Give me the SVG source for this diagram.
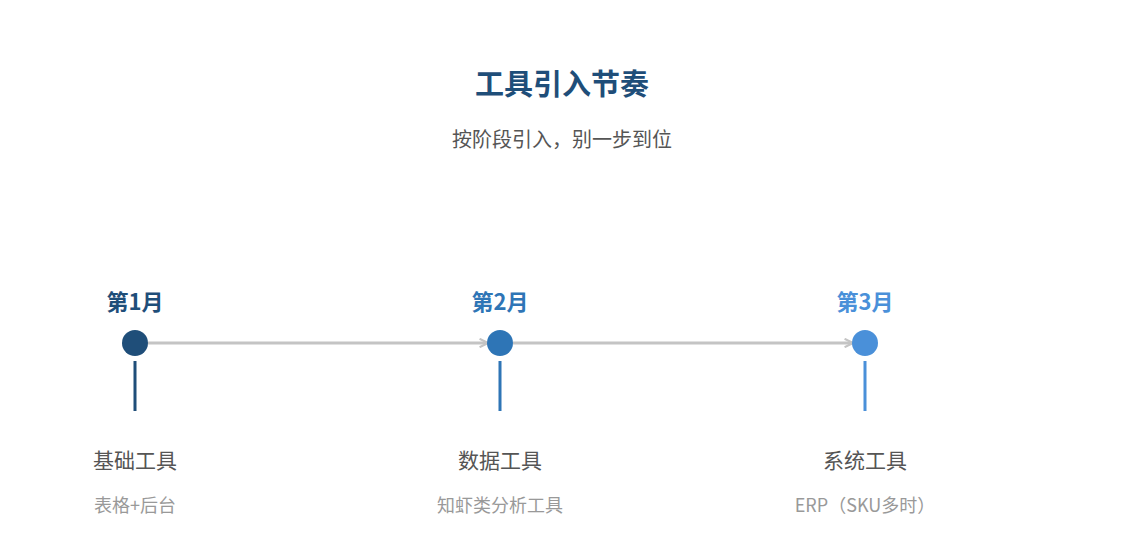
<svg xmlns="http://www.w3.org/2000/svg" width="1125" height="555" viewBox="0 0 1125 555">
<style>
text{font-family:"Noto Sans CJK SC","Noto Sans",sans-serif;text-anchor:middle}
.title{font-size:29px;font-weight:bold;fill:#1f4e79}
.sub{font-size:20px;fill:#555}
.month{font-size:22px;font-weight:bold}
.name{font-size:21px;fill:#555}
.desc{font-size:18px;fill:#999}
.conn{stroke:#c4c4c4;stroke-width:3;fill:none}
</style>
<defs>
<marker id="arr" viewBox="0 0 10 10" refX="9" refY="5" markerWidth="3.5" markerHeight="3.5" orient="auto" markerUnits="strokeWidth">
<path d="M1,1 L9,5 L1,9" fill="none" stroke="#c4c4c4" stroke-width="2"/>
</marker>
</defs>
<rect width="1125" height="555" fill="#fff"/>
<text class="title" x="562" y="95">工具引入节奏</text>
<text class="sub" x="562" y="147">按阶段引入，别一步到位</text>
<g id="connectors">
<line class="conn" x1="148" y1="343" x2="488" y2="343" marker-end="url(#arr)"/>
<line class="conn" x1="513" y1="343" x2="853" y2="343" marker-end="url(#arr)"/>
</g>
<g id="node1">
<text class="month" x="135" y="310" fill="#1f4e79">第1月</text>
<circle cx="135" cy="343" r="13" fill="#1f4e79"/>
<rect x="133.5" y="361" width="3" height="50" fill="#1f4e79"/>
<text class="name" x="135" y="468">基础工具</text>
<text class="desc" x="135" y="512">表格+后台</text>
</g>
<g id="node2">
<text class="month" x="500" y="310" fill="#2e75b6">第2月</text>
<circle cx="500" cy="343" r="13" fill="#2e75b6"/>
<rect x="498.5" y="361" width="3" height="50" fill="#2e75b6"/>
<text class="name" x="500" y="468">数据工具</text>
<text class="desc" x="500" y="512">知虾类分析工具</text>
</g>
<g id="node3">
<text class="month" x="865" y="310" fill="#4a90d9">第3月</text>
<circle cx="865" cy="343" r="13" fill="#4a90d9"/>
<rect x="863.5" y="361" width="3" height="50" fill="#4a90d9"/>
<text class="name" x="865" y="468">系统工具</text>
<text class="desc" x="865" y="512">ERP（SKU多时）</text>
</g>
</svg>
